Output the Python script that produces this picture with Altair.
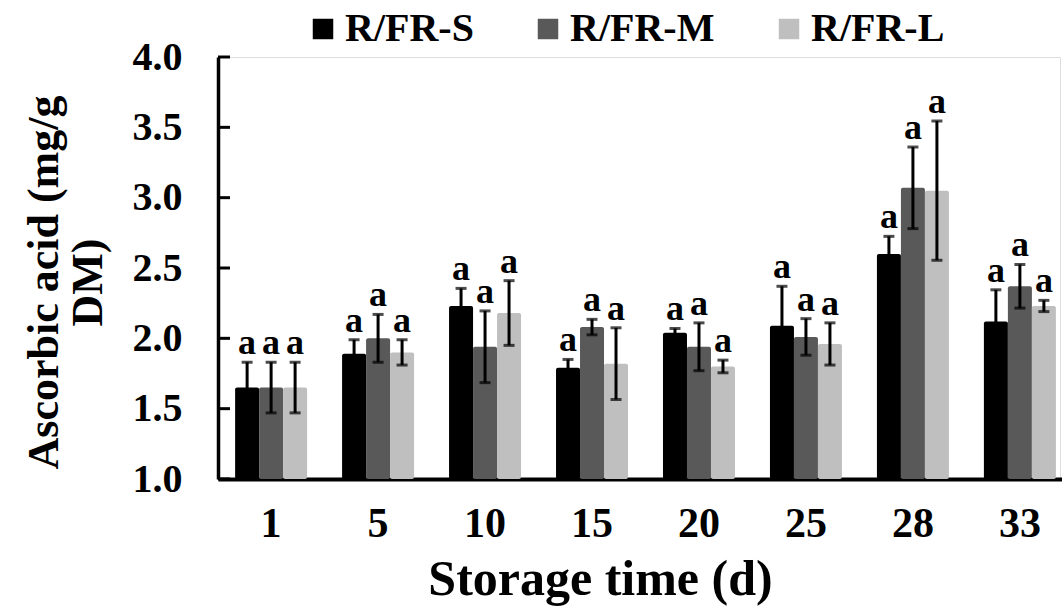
import altair as alt
import pandas as pd

days = ["1", "5", "10", "15", "20", "25", "28", "33"]
series = ["R/FR-S", "R/FR-M", "R/FR-L"]
colors = ["#000000", "#595959", "#BFBFBF"]

s_mean = [1.65, 1.89, 2.23, 1.79, 2.04, 2.09, 2.60, 2.12]
s_sd = [0.18, 0.10, 0.125, 0.06, 0.03, 0.28, 0.125, 0.225]
m_mean = [1.65, 2.00, 1.94, 2.08, 1.94, 2.01, 3.07, 2.37]
m_sd = [0.18, 0.17, 0.255, 0.055, 0.17, 0.13, 0.29, 0.155]
l_mean = [1.65, 1.90, 2.18, 1.82, 1.80, 1.96, 3.05, 2.23]
l_sd = [0.18, 0.09, 0.23, 0.255, 0.045, 0.15, 0.495, 0.04]
letters = ["a"] * 8

y_ticks = [1.0, 1.5, 2.0, 2.5, 3.0, 3.5, 4.0]

rows = []
for name, means, sds in zip(series, [s_mean, m_mean, l_mean], [s_sd, m_sd, l_sd]):
    for d, mu, sd, let in zip(days, means, sds, letters):
        rows.append({"day": d, "series": name, "mean": mu, "lo": mu - sd, "hi": mu + sd, "letter": let})
df = pd.DataFrame(rows)
ticks_df = pd.DataFrame({"v": y_ticks})

FONT = "Liberation Serif"

x_scale = alt.Scale(domain=days, range=[0, 855], paddingInner=0.327, paddingOuter=0.16)
y_scale = alt.Scale(domain=[1, 4], zero=False, nice=False)
xo = alt.XOffset("series:N", scale=alt.Scale(domain=series), sort=series)

x_enc = alt.X("day:N", scale=x_scale, sort=days,
              axis=alt.Axis(title="Storage time (d)", labelAngle=0, ticks=False,
                            labelFont=FONT, labelFontSize=42, labelFontWeight="bold",
                            labelColor="black", labelPadding=24,
                            titleFont=FONT, titleFontSize=50, titleFontWeight="bold",
                            titleColor="black", titlePadding=10, titleX=382,
                            domainColor="black", domainWidth=4))

bars = alt.Chart(df).mark_bar(cornerRadius=2).encode(
    x=x_enc,
    xOffset=xo,
    y=alt.Y("mean:Q", scale=y_scale,
            axis=alt.Axis(title=["Ascorbic acid (mg/g", "DM)"], values=y_ticks, format=".1f",
                          ticks=False, grid=False,
                          labelFont=FONT, labelFontSize=40, labelFontWeight="bold",
                          labelColor="black", labelPadding=36,
                          titleFont=FONT, titleFontSize=44, titleFontWeight="bold",
                          titleColor="black", titlePadding=22, titleLineHeight=44,
                          titleY=225,
                          domainColor="black", domainWidth=3.5)),
    y2=alt.datum(1.0),
    color=alt.Color("series:N", scale=alt.Scale(domain=series, range=colors), sort=series,
                    legend=alt.Legend(title=None, orient="none", direction="horizontal",
                                      legendX=85, legendY=-48,
                                      symbolType="square", symbolSize=420, symbolStrokeWidth=0,
                                      labelFont=FONT, labelFontSize=40, labelFontWeight="bold",
                                      labelColor="black", labelOffset=2, columnPadding=54)),
)

err = alt.Chart(df).mark_rule(color="black", strokeWidth=3).encode(
    x=alt.X("day:N", scale=x_scale, sort=days), xOffset=xo,
    y=alt.Y("lo:Q", scale=y_scale), y2="hi:Q",
)
cap_hi = alt.Chart(df).mark_tick(color="black", thickness=3, size=11).encode(
    x=alt.X("day:N", scale=x_scale, sort=days), xOffset=xo,
    y=alt.Y("hi:Q", scale=y_scale),
)
cap_lo = alt.Chart(df).mark_tick(color="black", thickness=3, size=11).encode(
    x=alt.X("day:N", scale=x_scale, sort=days), xOffset=xo,
    y=alt.Y("lo:Q", scale=y_scale),
)
labels = alt.Chart(df).mark_text(font=FONT, fontSize=36, fontWeight="bold", color="black",
                                 baseline="alphabetic", dy=-8).encode(
    x=alt.X("day:N", scale=x_scale, sort=days), xOffset=xo,
    y=alt.Y("hi:Q", scale=y_scale),
    text="letter:N",
)
yticks = alt.Chart(ticks_df).mark_rule(color="black", strokeWidth=3).encode(
    y=alt.Y("v:Q", scale=y_scale),
    x=alt.value(0), x2=alt.value(12),
)

chart = alt.layer(bars, err, cap_hi, cap_lo, labels, yticks).properties(
    width=842, height=422,
    autosize=alt.AutoSizeParams(type="none"),
    padding={"left": 218, "top": 57, "right": 2, "bottom": 129},
).configure_view(stroke=None).configure(background="white")

chart.save("out.html", embed_options={"renderer": "svg", "actions": False})
